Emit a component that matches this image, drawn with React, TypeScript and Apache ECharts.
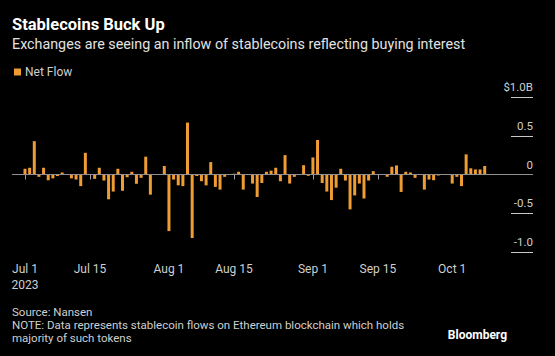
import React, { useEffect, useRef } from "react";
import * as echarts from "echarts";

// Daily net flow of stablecoins to exchanges, $bn, starting 2023-07-01
const startDate = "2023-07-01";
const netFlow = [
  0.074, 0.087, 0.43, -0.03, 0.087, -0.074, -0.05, -0.02, 0.026, 0.005,
  -0.05, -0.065, -0.15, 0.28, 0.005, -0.056, 0.087, -0.078, -0.32, -0.22,
  0.074, -0.21, -0.035, 0.035, -0.12, -0.043, 0.23, -0.26, 0.005, 0.005,
  0.11, -0.73, -0.065, -0.14, -0.15, 0.67, -0.82, -0.02, -0.087, -0.14,
  0.16, -0.16, -0.195, -0.03, 0.005, 0.01, 0.035, -0.195, 0.005, -0.117,
  -0.29, -0.11, 0.035, 0.05, 0.087, -0.087, 0.25, -0.117, -0.03, 0.005,
  0.12, -0.017, 0.22, 0.445, -0.11, -0.22, -0.33, -0.17, 0.074, -0.078,
  -0.45, -0.27, -0.117, -0.31, -0.078, 0.043, 0.005, 0.005, -0.03, 0.1,
  0.117, -0.225, 0.035, 0.026, -0.043, 0.005, -0.195, -0.065, -0.074, -0.013,
  0.005, 0.005, -0.117, -0.03, -0.15, 0.26, 0.08, 0.065, 0.065, 0.11,
];

// x ticks: day offsets from startDate and their labels
const tickDays = [0, 14, 31, 45, 62, 76, 92];
const tickLabels = ["Jul 1\n2023", "Jul 15", "Aug 1", "Aug 15", "Sep 1", "Sep 15", "Oct 1"];

// y ticks
const yTicks = [-1, -0.5, 0, 0.5, 1];
const yTickLabels = ["-1.0", "-0.5", "0", "0.5", "$1.0B"];

const FONT = "Roboto";

export default function App() {
  const ref = useRef<HTMLDivElement>(null);

  useEffect(() => {
    document.body.style.margin = "0";
    document.body.style.background = "#000";
    if (!ref.current) return;
    const chart = echarts.init(ref.current, undefined, { renderer: "svg" });

    const option: any = {
      animation: false,
      backgroundColor: "#000",
      textStyle: { fontFamily: FONT },
      grid: [
        { left: 12, right: 22, top: 97, bottom: 104 },
        { left: 511, right: 22, top: 97, bottom: 104 },
      ],
      legend: {
        show: true,
        left: 9,
        top: 61,
        icon: "rect",
        itemWidth: 7,
        itemHeight: 7,
        itemGap: 4,
        textStyle: { color: "#cfcfcf", fontSize: 12, fontFamily: FONT, padding: [0, 0, 0, -1] },
        data: ["Net Flow"],
      },
      xAxis: [
        {
          type: "value",
          gridIndex: 0,
          min: -2.8,
          max: 109.4,
          axisLine: { show: false },
          splitLine: { show: false },
          axisTick: {
            show: true,
            customValues: tickDays,
            length: 5,
            lineStyle: { color: "#a0a0a0", width: 1 },
          },
          axisLabel: {
            show: true,
            customValues: tickDays,
            color: "#cfcfcf",
            fontSize: 12,
            fontFamily: FONT,
            lineHeight: 16,
            margin: 9,
            formatter: (v: number) => {
              const i = tickDays.indexOf(Math.round(v));
              return i >= 0 ? tickLabels[i] : "";
            },
          },
        },
        {
          type: "value",
          gridIndex: 1,
          min: 0,
          max: 1,
          show: false,
        },
      ],
      yAxis: [
        {
          type: "value",
          gridIndex: 0,
          position: "right",
          min: -1,
          max: 1,
          interval: 0.5,
          axisLine: { show: false },
          splitLine: { show: false },
          axisTick: { show: false },
          axisLabel: {
            show: true,
            inside: true,
            margin: 0,
            align: "right",
            verticalAlign: "bottom",
            padding: [0, 0, 4, 0],
            color: "#cfcfcf",
            fontSize: 11.5,
            fontFamily: FONT,
            formatter: (v: number) => {
              const i = yTicks.findIndex((t) => Math.abs(t - v) < 1e-6);
              return i >= 0 ? yTickLabels[i] : "";
            },
          },
        },
        {
          type: "value",
          gridIndex: 1,
          position: "right",
          min: -1,
          max: 1,
          interval: 0.5,
          axisLine: { show: false },
          axisTick: { show: false },
          axisLabel: { show: false },
          splitLine: { show: true, lineStyle: { color: "#c8c8c8", width: 1 } },
        },
      ],
      series: [
        {
          name: "Net Flow",
          type: "bar",
          xAxisIndex: 0,
          yAxisIndex: 0,
          barWidth: 3,
          itemStyle: { color: "#EE9C33" },
          data: netFlow.map((v, i) => [i, v]),
          markLine: {
            silent: true,
            symbol: ["none", "none"],
            label: { show: false },
            lineStyle: { color: "#8f8f8f", width: 1, type: "solid" },
            data: [{ yAxis: 0 }],
          },
        },
      ],
      graphic: [
        {
          type: "text",
          left: 12,
          top: 16,
          style: {
            text: "Stablecoins Buck Up",
            fill: "#ffffff",
            font: `bold 16.5px ${FONT}`,
          },
        },
        {
          type: "text",
          left: 12,
          top: 37,
          style: {
            text: "Exchanges are seeing an inflow of stablecoins reflecting buying interest",
            fill: "#e2e2e2",
            font: `14.3px ${FONT}`,
          },
        },
        {
          type: "text",
          left: 12,
          top: 306,
          style: {
            text: "Source: Nansen",
            fill: "#cfcfcf",
            font: `11.5px ${FONT}`,
          },
        },
        {
          type: "text",
          left: 12,
          top: 319,
          style: {
            text:
              "NOTE: Data represents stablecoin flows on Ethereum blockchain which holds\nmajority of such tokens",
            fill: "#cfcfcf",
            font: `11.5px ${FONT}`,
            lineHeight: 12.5,
          },
        },
        {
          type: "text",
          right: 48,
          top: 329,
          style: {
            text: "Bloomberg",
            fill: "#ffffff",
            font: `bold 12px ${FONT}`,
          },
        },
      ],
    };

    chart.setOption(option);
    return () => chart.dispose();
  }, []);

  return (
    <div
      ref={ref}
      data-start={startDate}
      style={{ position: "absolute", left: 0, top: 0, width: 555, height: 356, background: "#000" }}
    />
  );
}
